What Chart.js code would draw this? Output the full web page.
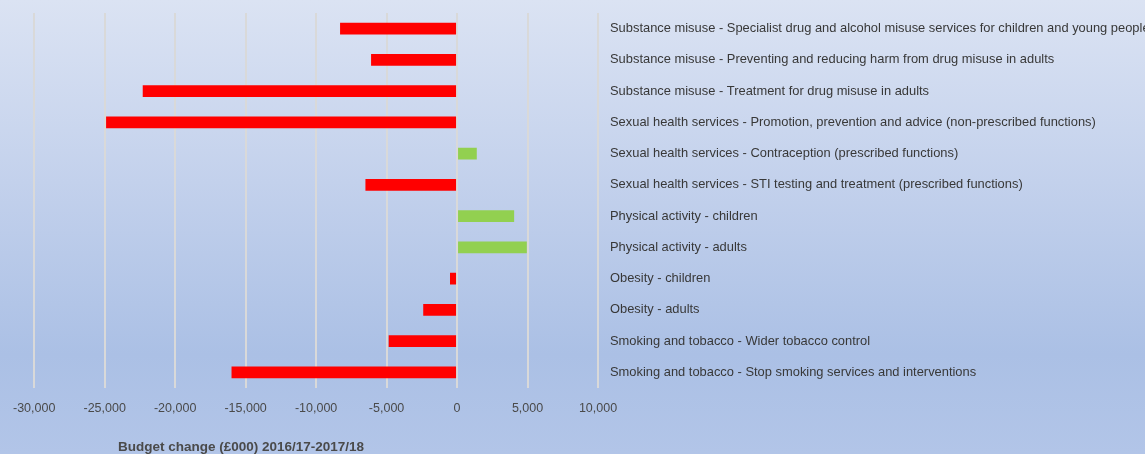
<!DOCTYPE html>
<html>
<head>
<meta charset="utf-8">
<script src="https://cdn.jsdelivr.net/npm/chart.js@4/dist/chart.umd.min.js"></script>
<style>
    html, body { margin: 0; padding: 0; }
    body {
        width: 1145px; height: 454px; overflow: hidden; position: relative;
        background: linear-gradient(to bottom, #dbe3f3 0%, #c3d1ec 40%, #abc0e5 78%, #b2c5e8 100%);
        font-family: "Liberation Sans", Arial, sans-serif;
    }
    #wrap { position: absolute; left: 0; top: 0; width: 1145px; height: 454px; }
    #axis-title {
        position: absolute; left: 118px; top: 439px;
        font-size: 13.5px; font-weight: bold; color: #4a4a4a; white-space: nowrap;
    }
</style>
</head>
<body>
<div id="wrap"><canvas id="budgetChart" width="1145" height="454"></canvas></div>
<div id="axis-title">Budget change (£000) 2016/17-2017/18</div>
<script>
const categories = [
    'Substance misuse - Specialist drug and alcohol misuse services for children and young people',
    'Substance misuse - Preventing and reducing harm from drug misuse in adults',
    'Substance misuse - Treatment for drug misuse in adults',
    'Sexual health services - Promotion, prevention and advice (non-prescribed functions)',
    'Sexual health services - Contraception (prescribed functions)',
    'Sexual health services - STI testing and treatment (prescribed functions)',
    'Physical activity - children',
    'Physical activity - adults',
    'Obesity - children',
    'Obesity - adults',
    'Smoking and tobacco - Wider tobacco control',
    'Smoking and tobacco - Stop smoking services and interventions'
];
const budgetChange = [-8300, -6100, -22300, -24900, 1400, -6500, 4050, 4950, -500, -2400, -4850, -16000];
const xTicks = { min: -30000, max: 10000, step: 5000 };

const ctx = document.getElementById('budgetChart').getContext('2d');
const budgetChart = new Chart(ctx, {
    type: 'bar',
    data: {
        labels: categories,
        datasets: [{
            label: 'Budget change (£000) 2016/17-2017/18',
            data: budgetChange,
            backgroundColor: c => c.raw < 0 ? '#ff0000' : '#92d050',
            borderWidth: 0,
            barPercentage: 0.37,
            categoryPercentage: 1
        }]
    },
    options: {
        indexAxis: 'y',
        responsive: false,
        animation: false,
        layout: { padding: { top: 13, left: 33, right: 0, bottom: 0 } },
        plugins: { legend: { display: false }, tooltip: { enabled: false } },
        scales: {
            x: {
                min: xTicks.min, max: xTicks.max,
                grid: { color: '#d9d9d9', lineWidth: 2, drawTicks: false },
                border: { display: false },
                ticks: {
                    stepSize: xTicks.step, padding: 13, color: '#4a4a4a',
                    font: { family: '"Liberation Sans", Arial', size: 12.5 },
                    callback: v => v.toLocaleString('en-US')
                },
                afterFit: s => { s.height = 66; }
            },
            y: {
                position: 'right',
                grid: { display: false, drawTicks: false },
                border: { display: false },
                ticks: {
                    padding: 12, color: '#383838',
                    font: { family: '"Liberation Sans", Arial', size: 12.9 }
                },
                // labels sit inside their bands, so no extra room is needed above
                afterFit: s => { s.width = 547; s.paddingTop = 0; s.paddingBottom = 0; }
            }
        }
    }
});
</script>
</body>
</html>
